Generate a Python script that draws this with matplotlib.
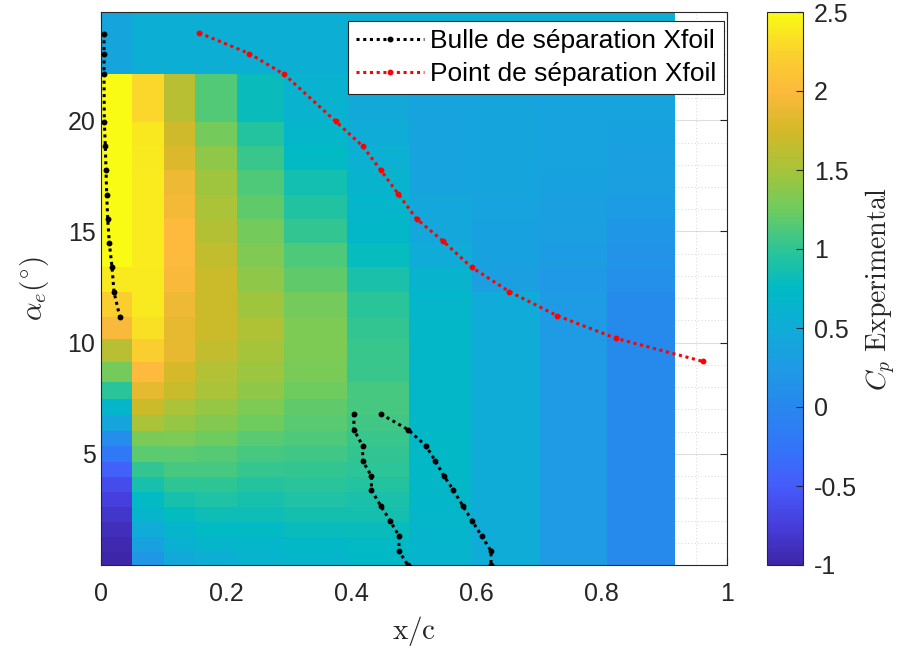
import numpy as np
import matplotlib
matplotlib.use("Agg")
import matplotlib.pyplot as plt
from matplotlib.colors import LinearSegmentedColormap, Normalize
from matplotlib.ticker import MultipleLocator

plt.rcParams['font.family'] = ['Liberation Sans', 'DejaVu Sans']
plt.rcParams['mathtext.fontset'] = 'cm'
plt.rcParams['axes.unicode_minus'] = False

INK = (0.15, 0.15, 0.15)

# pressure tap positions (cell edges along the chord)
x_nodes = [0.0, 0.05, 0.10, 0.15, 0.217, 0.292, 0.393, 0.492, 0.593, 0.701, 0.809, 0.917]
# effective angle of attack (cell edges)
alpha_nodes = [0.0, 0.59, 1.26, 1.94, 2.61, 3.29, 3.96, 4.64, 5.33, 6.04, 6.74, 7.46,
               8.24, 9.14, 10.17, 11.17, 12.27, 13.39, 14.47, 15.57, 16.65, 17.75,
               18.83, 19.92, 22.07, 24.87]

# Cp per chord column, from low to high alpha
cp_c1 = [-1.0, -0.96, -0.9, -0.83, -0.74, -0.62, -0.45, -0.2, 0.08, 0.4, 0.68, 0.98, 1.27,
         1.6, 1.97, 2.2, 2.38, 2.55, 2.55, 2.55, 2.55, 2.55, 2.55, 2.55, 0.4]
cp_c2 = [0.2, 0.35, 0.5, 0.65, 0.75, 0.88, 1.02, 1.18, 1.3, 1.52, 1.7, 1.85, 2.0,
         2.2, 2.33, 2.38, 2.38, 2.4, 2.4, 2.4, 2.4, 2.38, 2.37, 2.28, 0.55]
cp_c3 = [0.45, 0.58, 0.65, 0.77, 0.88, 1.0, 1.1, 1.18, 1.32, 1.42, 1.52, 1.68, 1.75,
         1.87, 1.87, 1.9, 1.98, 2.0, 2.0, 1.95, 1.9, 1.8, 1.72, 1.6, 0.55]
cp_c4 = [0.55, 0.65, 0.75, 0.82, 0.92, 1.0, 1.1, 1.16, 1.25, 1.35, 1.42, 1.52, 1.57,
         1.65, 1.7, 1.7, 1.7, 1.65, 1.58, 1.52, 1.47, 1.4, 1.27, 1.14, 0.55]
cp_c5 = [0.63, 0.68, 0.75, 0.82, 0.88, 0.95, 1.03, 1.1, 1.17, 1.25, 1.32, 1.4, 1.45,
         1.5, 1.55, 1.47, 1.4, 1.33, 1.27, 1.2, 1.12, 1.05, 0.95, 0.8, 0.55]
cp_c6 = [0.67, 0.72, 0.8, 0.86, 0.92, 0.97, 1.02, 1.07, 1.12, 1.17, 1.2, 1.25, 1.3,
         1.32, 1.32, 1.27, 1.2, 1.12, 1.02, 0.93, 0.85, 0.75, 0.68, 0.6, 0.55]
cp_c7 = [0.72, 0.76, 0.8, 0.86, 0.9, 0.95, 0.99, 1.02, 1.05, 1.07, 1.1, 1.1, 1.05,
         1.05, 1.02, 0.98, 0.9, 0.78, 0.7, 0.67, 0.62, 0.57, 0.5, 0.45, 0.55]
cp_c8 = [0.63, 0.65, 0.67, 0.68, 0.7, 0.7, 0.72, 0.72, 0.72, 0.7, 0.7, 0.7, 0.7,
         0.7, 0.7, 0.68, 0.62, 0.5, 0.43, 0.43, 0.38, 0.38, 0.38, 0.38, 0.55]
cp_c9 = [0.5, 0.5, 0.5, 0.5, 0.5, 0.5, 0.5, 0.5, 0.5, 0.5, 0.5, 0.5, 0.5,
         0.5, 0.5, 0.48, 0.3, 0.35, 0.35, 0.38, 0.4, 0.4, 0.4, 0.4, 0.55]
cp_c10 = [0.25, 0.25, 0.25, 0.25, 0.25, 0.25, 0.25, 0.25, 0.25, 0.25, 0.25, 0.25, 0.25,
          0.25, 0.25, 0.25, 0.22, 0.28, 0.3, 0.32, 0.35, 0.38, 0.38, 0.38, 0.55]
cp_c11 = [0.05, 0.05, 0.05, 0.05, 0.05, 0.05, 0.05, 0.05, 0.05, 0.05, 0.05, 0.05, 0.05,
          0.05, 0.05, 0.05, 0.12, 0.15, 0.2, 0.28, 0.3, 0.32, 0.35, 0.38, 0.55]

# Xfoil laminar separation bubble (leading edge + mid chord, start and end)
bub_le_x = [0.0048, 0.0048, 0.0048, 0.0053, 0.0069, 0.008, 0.0091, 0.0107, 0.0133, 0.0176, 0.0208, 0.030]
bub_le_a = [23.9, 23.0, 22.07, 19.92, 18.83, 17.75, 16.65, 15.57, 14.47, 13.39, 12.27, 11.17]
bub_s_x = [0.404, 0.404, 0.418, 0.418, 0.432, 0.432, 0.447, 0.462, 0.476, 0.476, 0.490]
bub_s_a = [6.79, 6.08, 5.36, 4.68, 4.0, 3.36, 2.66, 1.98, 1.31, 0.63, 0.0]
bub_e_x = [0.447, 0.491, 0.519, 0.534, 0.548, 0.563, 0.578, 0.593, 0.608, 0.623, 0.623]
bub_e_a = [6.79, 6.08, 5.36, 4.68, 4.0, 3.36, 2.66, 1.98, 1.31, 0.63, 0.0]

# Xfoil separation point
sep_x = [0.157, 0.237, 0.293, 0.375, 0.418, 0.447, 0.475, 0.504, 0.547, 0.592, 0.652, 0.728, 0.823, 0.961]
sep_a = [23.93, 23.0, 22.06, 19.95, 18.84, 17.75, 16.68, 15.57, 14.55, 13.39, 12.30, 11.22, 10.19, 9.16]

# parula-like colormap
par = [(62, 38, 168), (70, 62, 220), (70, 92, 252), (50, 118, 248), (40, 135, 238),
       (30, 155, 228), (15, 172, 215), (0, 186, 196), (45, 197, 150), (110, 204, 95),
       (165, 196, 58), (212, 185, 40), (253, 185, 60), (250, 210, 45), (249, 251, 20)]
cmap = LinearSegmentedColormap.from_list('parula_like', [tuple(c / 255 for c in p) for p in par], N=256)

cp = np.column_stack([cp_c1, cp_c2, cp_c3, cp_c4, cp_c5, cp_c6, cp_c7, cp_c8, cp_c9, cp_c10, cp_c11])

fig = plt.figure(figsize=(9, 6.52), dpi=100)
ax = fig.add_axes([101 / 900, 87 / 652, 626 / 900, 553 / 652])
cax = fig.add_axes([767 / 900, 87 / 652, 36 / 900, 553 / 652])

ax.set_axisbelow(True)
mesh = ax.pcolormesh(x_nodes, alpha_nodes, cp, cmap=cmap, norm=Normalize(-1, 2.5),
                     shading='flat', zorder=1)

dot = dict(linestyle=(0, (1, 1.2)), linewidth=2.2, marker='o', markersize=3.2, zorder=3)
ax.plot(bub_le_x, bub_le_a, color='black', label='Bulle de séparation Xfoil', **dot)
ax.plot(bub_s_x, bub_s_a, color='black', **dot)
ax.plot(bub_e_x, bub_e_a, color='black', **dot)
ax.plot(sep_x, sep_a, color='red', label='Point de séparation Xfoil', **dot)

ax.set_xlim(0, 1)
ax.set_ylim(0, 24.87)
ax.set_xticks([0, 0.2, 0.4, 0.6, 0.8, 1])
ax.set_xticklabels(['0', '0.2', '0.4', '0.6', '0.8', '1'])
ax.set_yticks([5, 10, 15, 20])
ax.xaxis.set_minor_locator(MultipleLocator(0.05))
ax.yaxis.set_minor_locator(MultipleLocator(1))
ax.grid(True, which='major', color=INK, alpha=0.15, linewidth=0.8)
ax.grid(True, which='minor', color=INK, alpha=0.25, linewidth=0.6, linestyle=(0, (1, 3)))
ax.tick_params(which='major', direction='in', length=5, width=0.8, colors=INK,
               top=True, right=True, labelsize=18)
ax.tick_params(axis='x', pad=12)
ax.tick_params(axis='y', pad=4)
ax.tick_params(which='minor', length=0)
for s in ax.spines.values():
    s.set_color(INK)
    s.set_linewidth(0.8)

ax.set_xlabel(r'$\mathrm{x/c}$', fontsize=21, color=INK, labelpad=6)
ax.set_ylabel(r'$\alpha_e(^{\circ})$', fontsize=21, color=INK, labelpad=12)

leg = ax.legend(loc='upper right', bbox_to_anchor=(0.995, 0.983), borderaxespad=0,
                fontsize=19, frameon=True, fancybox=False, framealpha=1,
                edgecolor=INK, handlelength=2.6, handletextpad=0.2,
                borderpad=0.3, labelspacing=0.32, numpoints=1)
leg.get_frame().set_linewidth(0.8)

cb = fig.colorbar(mesh, cax=cax)
cb.set_ticks([-1, -0.5, 0, 0.5, 1, 1.5, 2, 2.5])
cb.set_ticklabels(['-1', '-0.5', '0', '0.5', '1', '1.5', '2', '2.5'])
cb.ax.tick_params(direction='in', length=5, width=0.8, colors=INK, labelsize=18, pad=8)
cb.outline.set_edgecolor(INK)
cb.outline.set_linewidth(0.8)
cb.set_label(r'$C_p\ \mathrm{Experimental}$', fontsize=20, color=INK, labelpad=5)

fig.savefig('out.png', dpi=100, facecolor='white')
